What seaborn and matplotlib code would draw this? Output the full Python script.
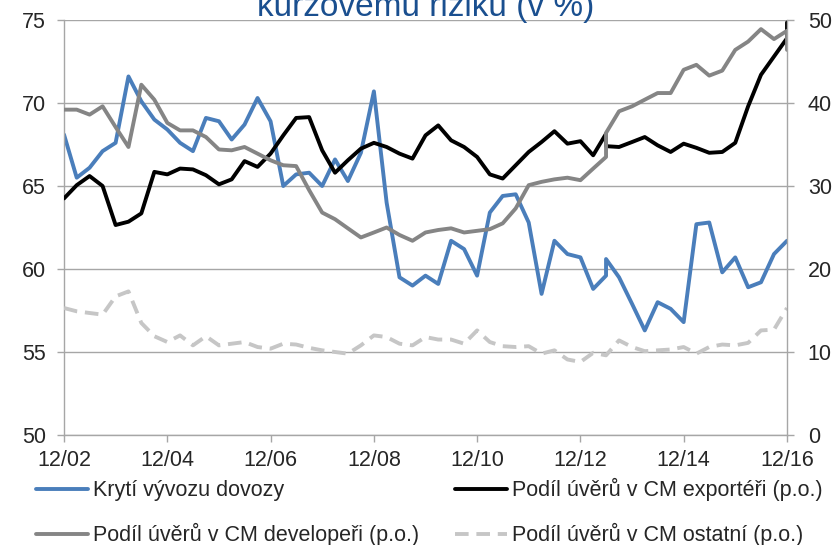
import pandas as pd
import matplotlib.pyplot as plt
import matplotlib.dates as mdates
import seaborn as sns

# quarterly data 12/02 - 12/16; 6/13 and 12/16 carry two values (break in the series)
quarters = pd.date_range("2002-12-31", "2016-12-31", freq=pd.offsets.QuarterEnd())
dates = list(quarters)
dates.insert(43, quarters[42])
dates.append(quarters[56])

# left axis
kryti = [68.1, 65.5, 66.1, 67.1, 67.6, 71.6, 70.1, 69.0, 68.4, 67.6,
         67.1, 69.1, 68.9, 67.8, 68.7, 70.3, 68.9, 65.0, 65.7, 65.8,
         65.0, 66.6, 65.3, 67.0, 70.7, 64.0, 59.5, 59.0, 59.6, 59.1,
         61.7, 61.2, 59.6, 63.4, 64.4, 64.5, 62.8, 58.5, 61.7, 60.9,
         60.7, 58.8, 59.6, 60.6, 59.5, 57.9, 56.3, 58.0, 57.6, 56.8,
         62.7, 62.8, 59.8, 60.7, 58.9, 59.2, 60.9, 61.7, 61.7]

# right axis (p.o.)
exporteri = [28.5, 30.1, 31.2, 30.0, 25.3, 25.7, 26.7, 31.7, 31.4, 32.1,
             32.0, 31.3, 30.2, 30.8, 33.0, 32.3, 33.9, 36.1, 38.2, 38.3,
             34.3, 31.6, 33.1, 34.5, 35.2, 34.7, 33.9, 33.3, 36.1, 37.3,
             35.5, 34.7, 33.5, 31.4, 30.9, 32.5, 34.1, 35.3, 36.6, 35.1,
             35.4, 33.7, 36.3, 34.8, 34.7, 35.3, 35.9, 34.9, 34.1, 35.1,
             34.6, 34.0, 34.1, 35.2, 39.6, 43.4, 45.6, 47.8, 49.7]

developeri = [39.2, 39.2, 38.6, 39.6, 37.1, 34.7, 42.2, 40.4, 37.6, 36.7,
              36.7, 35.9, 34.4, 34.3, 34.7, 33.9, 33.1, 32.5, 32.4, 29.5,
              26.8, 26.0, 24.9, 23.8, 24.4, 25.0, 24.1, 23.4, 24.4, 24.7,
              24.9, 24.4, 24.6, 24.8, 25.5, 27.3, 30.1, 30.5, 30.8, 31.0,
              30.7, 32.1, 33.5, 36.4, 39.0, 39.6, 40.4, 41.2, 41.2, 44.0,
              44.6, 43.3, 43.9, 46.4, 47.4, 48.9, 47.7, 48.7, 46.4]

ostatni = [15.3, 14.9, 14.7, 14.5, 16.7, 17.3, 13.5, 11.9, 11.2, 12.0,
           10.8, 11.9, 10.8, 11.0, 11.2, 10.6, 10.4, 11.0, 10.9, 10.5,
           10.2, 10.0, 9.8, 10.8, 12.0, 11.8, 11.0, 10.8, 11.8, 11.5,
           11.5, 11.0, 12.6, 11.2, 10.7, 10.6, 10.7, 9.8, 10.2, 9.1,
           8.8, 9.9, 9.6, 9.6, 11.4, 10.6, 10.1, 10.2, 10.3, 10.6,
           9.8, 10.6, 10.9, 10.8, 11.1, 12.6, 12.7, 15.3, 15.3]

df = pd.DataFrame({"date": dates, "kryti": kryti, "exporteri": exporteri,
                   "developeri": developeri, "ostatni": ostatni})

sns.set_style("white")
plt.rcParams["font.family"] = ["Liberation Sans", "DejaVu Sans"]
plt.rcParams["font.size"] = 15.5

grid_col = "#a6a6a6"
lw = 2.8

fig = plt.figure(figsize=(8.33, 5.45), dpi=100)
ax = fig.add_axes([64 / 833, 1 - 435 / 545, (787 - 64) / 833, (435 - 20) / 545])
ax2 = ax.twinx()

sns.lineplot(data=df, x="date", y="kryti", ax=ax, color="#4a7ebb", lw=lw,
             estimator=None, sort=False, legend=False, label="Krytí vývozu dovozy")
sns.lineplot(data=df, x="date", y="exporteri", ax=ax2, color="black", lw=lw,
             estimator=None, sort=False, legend=False,
             label="Podíl úvěrů v CM exportéři (p.o.)")
sns.lineplot(data=df, x="date", y="developeri", ax=ax2, color="#858585", lw=lw,
             estimator=None, sort=False, legend=False,
             label="Podíl úvěrů v CM developeři (p.o.)")
sns.lineplot(data=df, x="date", y="ostatni", ax=ax2, color="#c6c6c6", lw=lw,
             linestyle=(0, (3.5, 2)), estimator=None, sort=False, legend=False,
             label="Podíl úvěrů v CM ostatní (p.o.)")

ax.set_ylim(50, 75)
ax.set_yticks(range(50, 76, 5))
ax2.set_ylim(0, 50)
ax2.set_yticks(range(0, 51, 10))
ax.set_xlim(quarters[0], quarters[56])
ax.set_xticks(quarters[::8])
ax.xaxis.set_major_formatter(mdates.DateFormatter("%m/%y"))

ax.set_xlabel("")
ax.set_ylabel("")
ax2.set_ylabel("")

ax.yaxis.grid(True, color=grid_col, lw=1)
ax.xaxis.grid(False)
ax2.grid(False)

for s in ["top", "right"]:
    ax.spines[s].set_visible(False)
for s in ["top", "left", "bottom"]:
    ax2.spines[s].set_visible(False)
for s in ["left", "bottom"]:
    ax.spines[s].set_color(grid_col)
    ax.spines[s].set_linewidth(1)
ax2.spines["right"].set_color(grid_col)
ax2.spines["right"].set_linewidth(1)

ax.tick_params(axis="y", direction="out", length=5, width=1, color=grid_col, pad=8, left=True)
ax.tick_params(axis="x", direction="out", length=5, width=1, color=grid_col, pad=6, bottom=True)
ax2.tick_params(axis="y", direction="out", length=5, width=1, color=grid_col, pad=10, right=True)

fig.text((64 + 787) / 2 / 833, 1 - 16 / 545, "kurzovému riziku (v %)",
         ha="center", va="baseline", fontsize=24, color="#1a4f8f")

# legend filled column by column
lines = ax.get_lines() + ax2.get_lines()
order = [0, 2, 1, 3]
handles = [lines[i] for i in order]
labels = [h.get_label() for h in handles]
fig.legend(handles, labels, loc="upper left", bbox_to_anchor=(36 / 833, 1 - 478 / 545),
           ncol=2, frameon=False, borderpad=0, borderaxespad=0, handlelength=2.4,
           handletextpad=0.25, columnspacing=1.67, labelspacing=1.03, fontsize=15.5)

fig.savefig("out.png", dpi=100)
